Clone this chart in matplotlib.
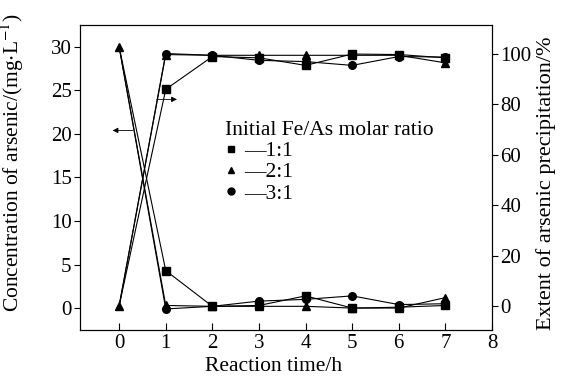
import matplotlib.pyplot as plt
from matplotlib.lines import Line2D

plt.rcParams['font.family'] = ['Liberation Serif', 'DejaVu Serif']
plt.rcParams['mathtext.fontset'] = 'stix'

# 数据
t = [0, 1, 2, 3, 4, 5, 6, 7]
labels = ['1:1', '2:1', '3:1']
markers = ['s', 'o', '^']
# 砷浓度 (mg/L), 顺序: 1:1, 3:1, 2:1
conc_11 = [30.0, 4.3, 0.2, 0.3, 1.4, 0.0, 0.1, 0.3]
conc_31 = [30.0, -0.1, 0.2, 0.8, 1.0, 1.4, 0.4, 0.5]
conc_21 = [30.0, 0.3, 0.2, 0.2, 0.2, 0.0, 0.0, 1.2]
# 沉淀率 (%)
ext_11 = [0.0, 86.0, 99.0, 98.5, 95.5, 100.0, 99.8, 98.5]
ext_31 = [0.0, 100.2, 99.5, 97.5, 97.0, 95.5, 99.0, 98.8]
ext_21 = [0.0, 99.8, 99.5, 99.5, 99.5, 99.5, 99.5, 96.5]
conc = [conc_11, conc_31, conc_21]
ext = [ext_11, ext_31, ext_21]

fig = plt.figure(figsize=(5.61, 3.8), dpi=100)
ax = fig.add_axes([0.1426, 0.132, 0.7344, 0.802])
ax2 = ax.twinx()

for c, e, m in zip(conc, ext, markers):
    # 0 h 处只显示三角形
    mk = None if m == '^' else list(range(1, len(t)))
    ax.plot(t, c, color='k', lw=0.8, marker=m, ms=5.5, markevery=mk)
    ax2.plot(t, e, color='k', lw=0.8, marker=m, ms=5.5, markevery=mk)

ax.set_xlim(-0.84, 8)
ax.set_ylim(-2.5, 32.5)
ax2.set_ylim(-9.5, 111.5)
ax.set_xticks(range(0, 9))
ax.set_yticks([0, 5, 10, 15, 20, 25, 30])
ax2.set_yticks([0, 20, 40, 60, 80, 100])

ax.tick_params(axis='x', direction='in', length=5, labelsize=15, pad=3)
ax.tick_params(axis='y', direction='out', length=4, labelsize=15, pad=2)
ax2.tick_params(axis='y', direction='out', length=4, labelsize=15, pad=2)

ax.set_xlabel('Reaction time/h', fontsize=15.5)
ax.set_ylabel(r'Concentration of arsenic/(mg$\cdot$L$^{-1}$)', fontsize=15.5)
ax2.set_ylabel('Extent of arsenic precipitation/%', fontsize=16)
ax.xaxis.set_label_coords(0.47, -0.09)
ax.yaxis.set_label_coords(-0.13, 0.55)
ax2.yaxis.set_label_coords(1.107, 0.48)

# 箭头
ax.annotate('', xy=(-0.2, 20.4), xytext=(0.35, 20.4),
            arrowprops=dict(arrowstyle='-|>', color='k', lw=0.6, mutation_scale=8))
ax2.annotate('', xy=(1.3, 82), xytext=(0.75, 82),
             arrowprops=dict(arrowstyle='-|>', color='k', lw=0.6, mutation_scale=8))

leg_markers = ['s', '^', 'o']
handles = [Line2D([], [], color='k', marker=m, ls='none', ms=5) for m in leg_markers]
leg = ax.legend(handles, ['\u2014' + l for l in labels], title='Initial Fe/As molar ratio',
                loc='upper left', bbox_to_anchor=(0.325, 0.72), frameon=False,
                fontsize=15.5, title_fontsize=15.5, handlelength=0.6, handletextpad=0.3,
                labelspacing=0.05, borderpad=0, alignment='left')

for s in ['left', 'right', 'top', 'bottom']:
    ax.spines[s].set_linewidth(0.8)
    ax2.spines[s].set_linewidth(0.8)

fig.savefig('out.png', dpi=100)
